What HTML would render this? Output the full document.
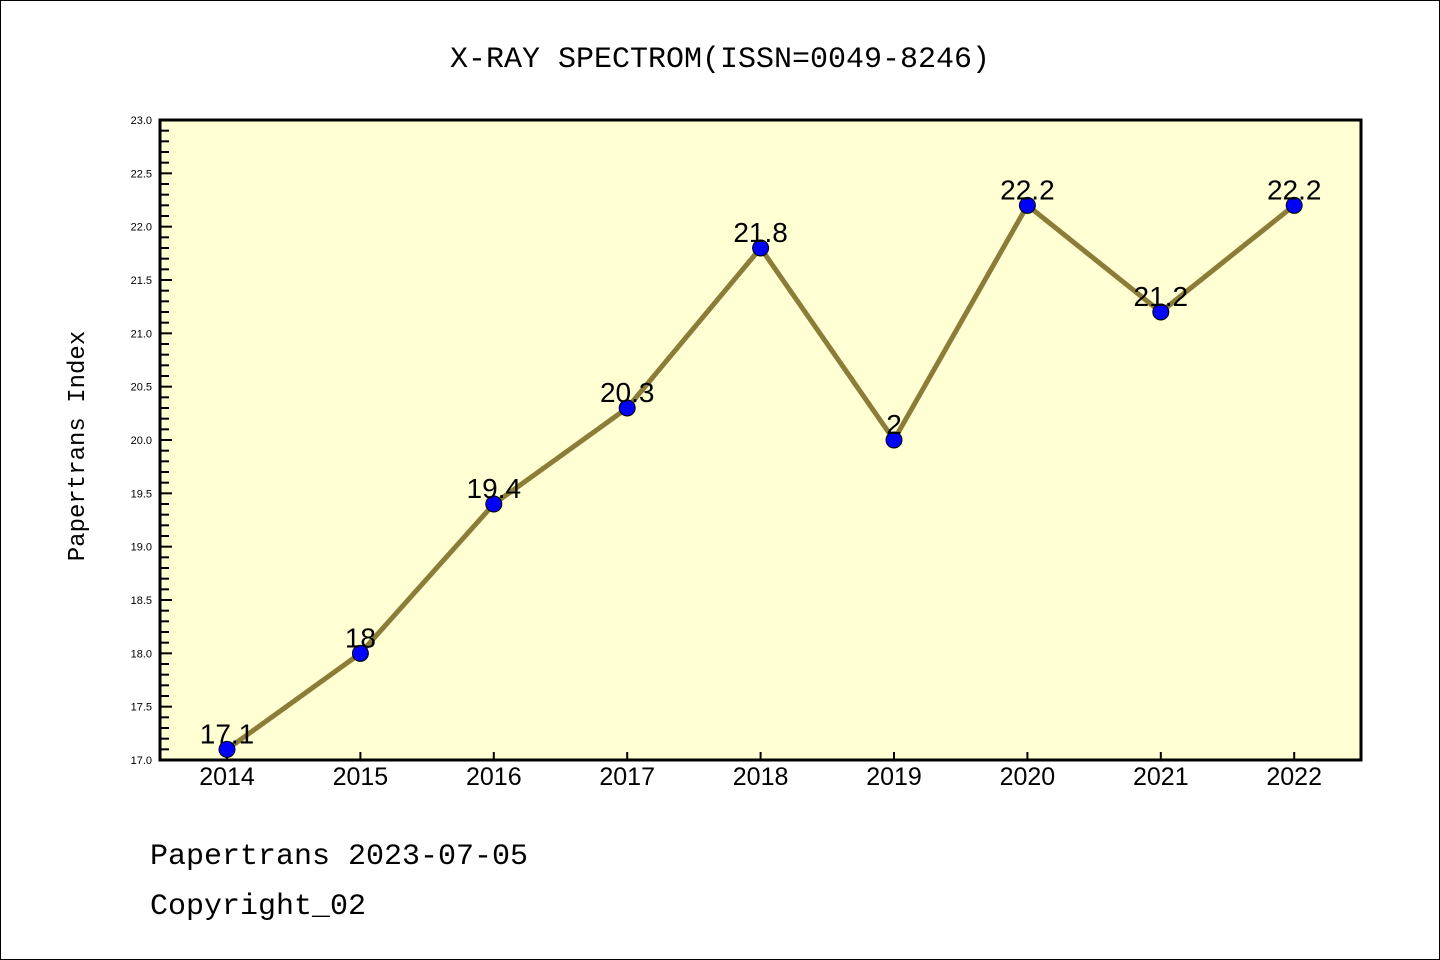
<!DOCTYPE html>
<html><head><meta charset="utf-8"><style>
body{margin:0;background:#fff}
svg{display:block;font-family:"Liberation Mono",monospace}
</style></head><body>
<svg id="c" width="1440" height="960">
<rect x="0.5" y="0.5" width="1439" height="959" fill="#fff" stroke="#000"/>
<text x="720" y="67" font-size="30" text-anchor="middle">X-RAY SPECTROM(ISSN=0049-8246)</text>
<rect x="160" y="120" width="1201" height="640" fill="#ffffd3"/>
<g id="ticks"></g>
<g id="series"></g>
<rect x="160" y="120" width="1201" height="640" fill="none" stroke="#000" stroke-width="3"/>
<text transform="translate(84,446) rotate(-90)" font-size="24" text-anchor="middle">Papertrans Index</text>
<text x="150" y="864" font-size="30">Papertrans 2023-07-05</text>
<text x="150" y="914" font-size="30">Copyright_02</text>
</svg>
<script>
const years=["2014","2015","2016","2017","2018","2019","2020","2021","2022"];
const values=[17.1,18,19.4,20.3,21.8,20,22.2,21.2,22.2];
const valueLabels=["17.1","18","19.4","20.3","21.8","2","22.2","21.2","22.2"];
const yTicks=[17.0,17.5,18.0,18.5,19.0,19.5,20.0,20.5,21.0,21.5,22.0,22.5,23.0];
const NS="http://www.w3.org/2000/svg";
const x=i=>227+i*133.4;
const y=v=>760-(v-17)*(640/6);
function mk(t,a,p){const e=document.createElementNS(NS,t);for(const k in a)e.setAttribute(k,a[k]);p.appendChild(e);return e;}
const tg=document.getElementById('ticks'),sg=document.getElementById('series');
for(let k=0;k<=60;k++){const v=17+k*0.1;const major=k%5===0;
 const l=mk('line',{x1:160,x2:major?172:169,y1:y(v),y2:y(v),stroke:'#000','stroke-width':2},tg);
 
 }
yTicks.forEach(v=>{const t=mk('text',{x:152,y:y(v)+4,'font-size':11,'font-family':'Liberation Sans, sans-serif','text-anchor':'end'},tg);t.textContent=v.toFixed(1);
 
 });
years.forEach((yr,i)=>{const l=mk('line',{x1:x(i),x2:x(i),y1:760,y2:752,stroke:'#000','stroke-width':2},tg);
 
 
 const t=mk('text',{x:x(i),y:785,'font-size':25,'font-family':'Liberation Sans, sans-serif','text-anchor':'middle'},tg);t.textContent=yr;
 
 });
const pl=mk('polyline',{points:values.map((v,i)=>x(i)+','+y(v)).join(' '),fill:'none',stroke:'#8b7d37','stroke-width':5},sg);


values.forEach((v,i)=>{const c=mk('circle',{cx:x(i),cy:y(v),r:8,fill:'#0000ff',stroke:'#000','stroke-width':1},sg);
 
 
 const t=mk('text',{x:x(i),y:y(v)-6,'font-size':28,'font-family':'Liberation Sans, sans-serif','text-anchor':'middle'},sg);t.textContent=valueLabels[i];
 
 });
</script>
</body></html>
